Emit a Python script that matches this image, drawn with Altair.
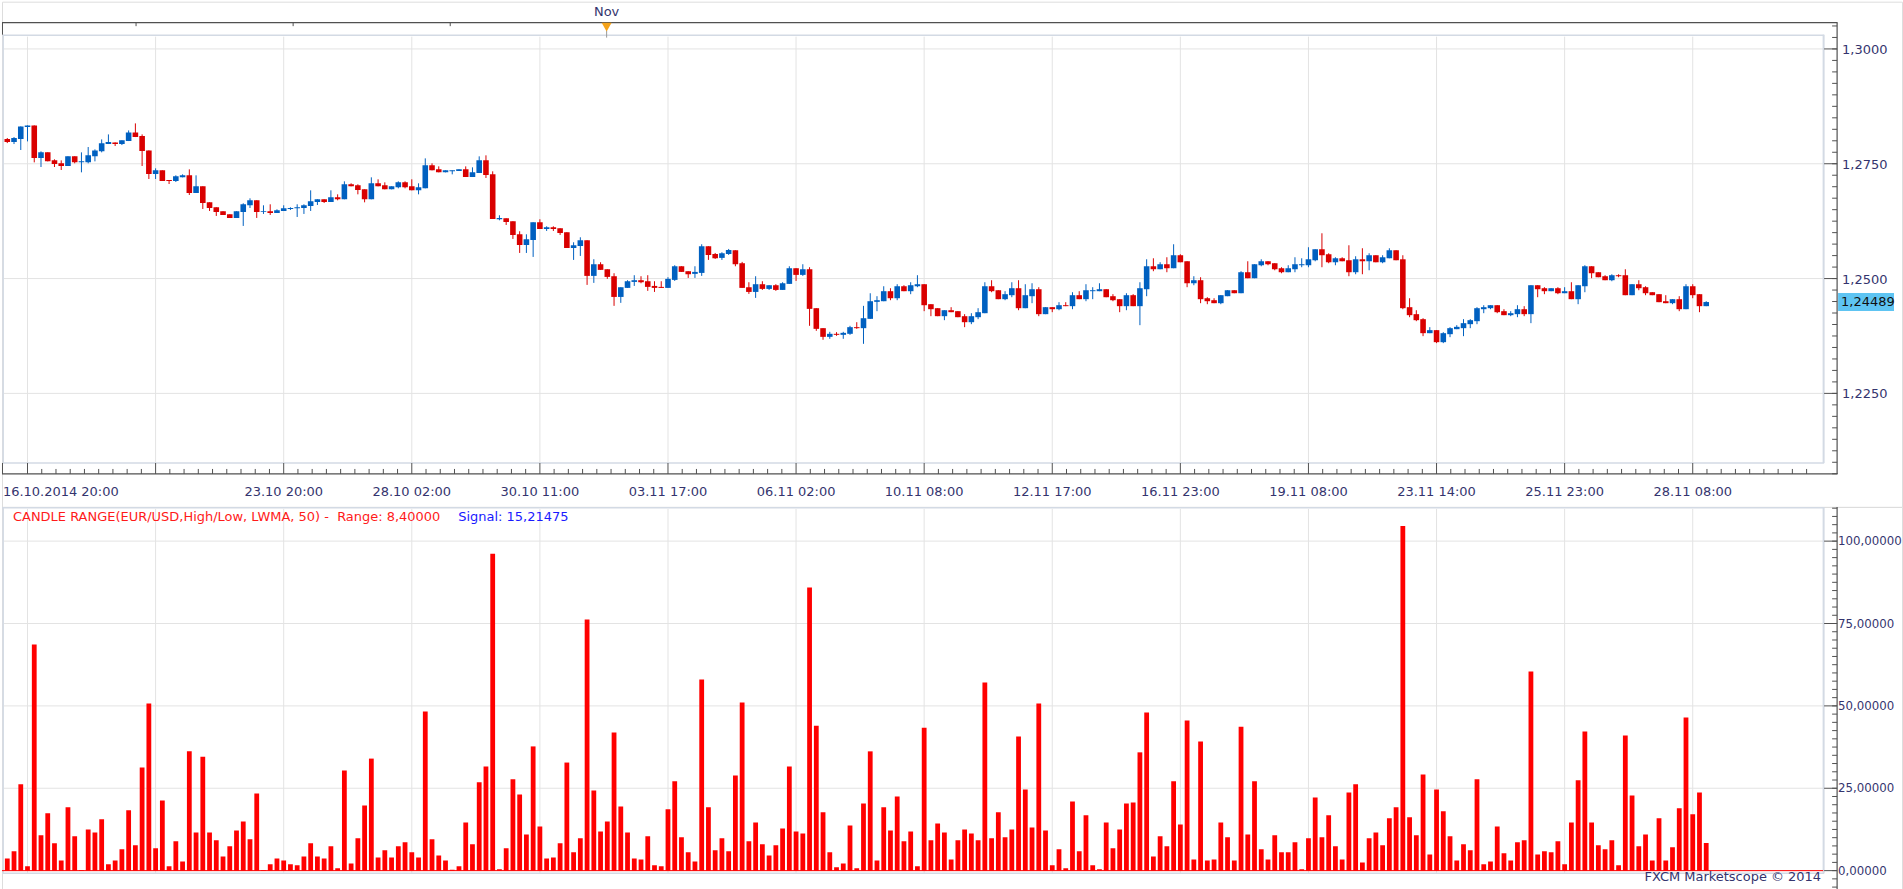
import altair as alt
import pandas as pd
import numpy as np

# ---------------- data ----------------
opens = [1.28038,1.27973,1.28038,1.28299,1.28335,1.27625,1.27748,1.27574,1.27509,1.27451,
1.27661,1.2753,1.2753,1.27661,1.2777,1.27929,1.27965,1.27929,1.27994,1.28183,
1.28103,1.27791,1.27277,1.27356,1.27146,1.27124,1.27204,1.27248,1.26863,1.27008,
1.2666,1.26552,1.26465,1.26399,1.2632,1.2645,1.26595,1.26704,1.2645,1.26465,
1.26428,1.26472,1.26515,1.2653,1.26537,1.26581,1.26668,1.26726,1.26668,1.26769,
1.26726,1.27052,1.2703,1.26943,1.26726,1.27074,1.2703,1.26943,1.26987,1.27095,
1.27008,1.26921,1.26965,1.27465,1.27378,1.27313,1.27335,1.27342,1.27378,1.27211,
1.27298,1.27574,1.27269,1.26291,1.26312,1.26247,1.25964,1.25732,1.25841,1.26225,
1.2608,1.26117,1.26095,1.26008,1.25667,1.25711,1.25834,1.25058,1.25312,1.25203,
1.25051,1.246,1.24797,1.24927,1.24964,1.24942,1.2484,1.24819,1.24797,1.24971,
1.25268,1.2516,1.25102,1.25123,1.25703,1.25537,1.2545,1.25537,1.25616,1.25334,
1.24811,1.24709,1.24877,1.24775,1.24855,1.24753,1.24884,1.25225,1.2508,1.25203,
1.24355,1.2392,1.23731,1.23797,1.23775,1.23797,1.23942,1.2392,1.24123,1.24493,
1.24507,1.24725,1.24572,1.24833,1.24725,1.24833,1.24877,1.24442,1.24355,1.24181,
1.24311,1.2429,1.24181,1.2405,1.24159,1.24246,1.24833,1.24746,1.24551,1.24638,
1.2479,1.24355,1.24616,1.24768,1.24225,1.24377,1.24333,1.2442,1.24399,1.24638,
1.24551,1.24725,1.24725,1.24768,1.24616,1.24551,1.24399,1.24638,1.24399,1.24768,
1.25268,1.25203,1.25312,1.25225,1.25508,1.25377,1.24898,1.24964,1.24572,1.24529,
1.24464,1.24616,1.24746,1.24681,1.25138,1.25007,1.2529,1.25377,1.25334,1.25225,
1.25138,1.25203,1.2529,1.2529,1.25399,1.25638,1.25529,1.25355,1.25442,1.25399,
1.25138,1.2542,1.25377,1.25508,1.25355,1.25442,1.25616,1.2542,1.24377,1.24225,
1.24116,1.23811,1.23877,1.23615,1.23789,1.23898,1.2392,1.24007,1.24072,1.24333,
1.24355,1.2442,1.2429,1.24203,1.24225,1.24333,1.24225,1.24855,1.2479,1.24725,
1.2479,1.24681,1.24725,1.24551,1.24833,1.25268,1.25138,1.25051,1.24964,1.25073,
1.25073,1.24638,1.24877,1.24812,1.24703,1.2466,1.24507,1.24464,1.24551,1.24333,
1.24833,1.2466,1.24399]
highs = [1.2806,1.28081,1.28313,1.28335,1.28335,1.2777,1.27748,1.27596,1.27574,1.27661,
1.27661,1.27748,1.27864,1.27813,1.2803,1.28139,1.27965,1.28009,1.28226,1.28379,
1.28139,1.27791,1.274,1.27356,1.27146,1.27248,1.27269,1.27378,1.27248,1.27008,
1.2666,1.26552,1.26465,1.26399,1.26465,1.26639,1.26747,1.26704,1.26595,1.26617,
1.26508,1.26595,1.26552,1.26617,1.26617,1.26921,1.26726,1.26726,1.26921,1.26834,
1.27117,1.27074,1.27052,1.26943,1.27204,1.27161,1.27095,1.27008,1.27117,1.27117,
1.27161,1.27074,1.27617,1.27509,1.27443,1.27356,1.27356,1.27378,1.27443,1.27422,
1.27661,1.27683,1.27335,1.26378,1.26312,1.26247,1.2603,1.25964,1.26225,1.26291,
1.26138,1.26138,1.26095,1.26008,1.2579,1.25899,1.25834,1.25421,1.25355,1.25203,
1.25116,1.24811,1.24964,1.25073,1.25051,1.25073,1.24942,1.24942,1.25029,1.2529,
1.25268,1.2516,1.25268,1.25747,1.25703,1.25558,1.25573,1.25645,1.25616,1.25363,
1.2492,1.25051,1.24942,1.24855,1.24877,1.2492,1.25268,1.25225,1.25312,1.25247,
1.24355,1.2392,1.2384,1.23833,1.2384,1.23971,1.2405,1.24406,1.2468,1.24616,
1.24833,1.2479,1.24877,1.24855,1.2492,1.25073,1.24877,1.24442,1.24355,1.24311,
1.24377,1.2429,1.24225,1.24246,1.24355,1.2492,1.24964,1.24746,1.24725,1.2492,
1.24964,1.24877,1.24898,1.24812,1.24377,1.24377,1.24486,1.24486,1.24703,1.24725,
1.24877,1.24812,1.24898,1.24768,1.2466,1.24551,1.24681,1.2466,1.2492,1.2542,
1.25442,1.25355,1.25464,1.25747,1.25529,1.25377,1.25051,1.25029,1.24594,1.24572,
1.24638,1.24746,1.24746,1.2516,1.25377,1.25312,1.2542,1.25377,1.25334,1.25247,
1.2529,1.25464,1.25442,1.25682,1.25638,1.25986,1.25551,1.25464,1.25464,1.25725,
1.25486,1.2566,1.25551,1.25508,1.25508,1.2566,1.25616,1.25508,1.24572,1.24311,
1.24137,1.23942,1.23877,1.23833,1.23942,1.23985,1.24116,1.24116,1.24377,1.2442,
1.2442,1.2442,1.24333,1.2429,1.2442,1.24399,1.24855,1.24855,1.24812,1.2479,
1.24812,1.24812,1.2492,1.24855,1.2529,1.25268,1.25138,1.25073,1.25094,1.25094,
1.25203,1.24877,1.24964,1.24833,1.24703,1.2466,1.24638,1.24551,1.24616,1.24877,
1.24877,1.2466,1.24507]
lows = [1.2795,1.27929,1.27799,1.27987,1.2753,1.27429,1.27552,1.27429,1.27364,1.27451,
1.27509,1.27313,1.27509,1.27552,1.27748,1.27929,1.27886,1.27907,1.27994,1.28081,
1.27451,1.27168,1.27168,1.27124,1.27059,1.27103,1.27204,1.2682,1.26863,1.26515,
1.26472,1.26363,1.26385,1.2632,1.2632,1.26146,1.26537,1.2632,1.26407,1.26385,
1.26428,1.26472,1.26494,1.26341,1.26407,1.26472,1.26602,1.26646,1.26668,1.26704,
1.26726,1.27008,1.26834,1.2666,1.26726,1.27008,1.26943,1.26943,1.26965,1.26965,
1.26921,1.26834,1.26965,1.27356,1.27313,1.27313,1.27269,1.27342,1.27211,1.27211,
1.27298,1.2719,1.26298,1.26269,1.26167,1.25863,1.25558,1.25558,1.25471,1.2608,
1.26037,1.26037,1.2595,1.25667,1.25406,1.25493,1.24862,1.24906,1.25189,1.24993,
1.24406,1.24471,1.24797,1.2484,1.24898,1.24732,1.24709,1.24797,1.24797,1.24949,
1.25145,1.25014,1.25014,1.25058,1.25406,1.25428,1.25406,1.25515,1.25268,1.24797,
1.24666,1.24579,1.24753,1.24753,1.24732,1.24753,1.24884,1.24949,1.25058,1.23971,
1.23862,1.23667,1.23688,1.23753,1.23688,1.23775,1.23905,1.23579,1.24123,1.2429,
1.24507,1.24529,1.24529,1.24725,1.2466,1.24812,1.2429,1.24181,1.24181,1.24094,
1.24268,1.24159,1.23942,1.24007,1.24116,1.24246,1.24703,1.24551,1.24529,1.24594,
1.24311,1.24355,1.24464,1.24181,1.24225,1.24268,1.24311,1.24399,1.24333,1.24551,
1.24507,1.24551,1.24725,1.24594,1.24507,1.24268,1.24311,1.24399,1.23985,1.24616,
1.2516,1.25203,1.25138,1.25225,1.25355,1.24812,1.24855,1.24464,1.24442,1.24464,
1.24442,1.24616,1.24681,1.24681,1.25007,1.25007,1.25268,1.2529,1.25181,1.25116,
1.25138,1.25138,1.25247,1.25247,1.25377,1.25247,1.25334,1.2529,1.25377,1.25051,
1.25094,1.25094,1.25181,1.25355,1.25334,1.25442,1.25399,1.24333,1.24159,1.24072,
1.23746,1.23811,1.23594,1.23594,1.23724,1.23898,1.23746,1.2392,1.24007,1.24246,
1.24333,1.24246,1.24203,1.24181,1.24159,1.24181,1.24029,1.24594,1.2466,1.24725,
1.2466,1.24681,1.24551,1.24442,1.24703,1.25007,1.25029,1.24964,1.24942,1.25029,
1.24638,1.24638,1.24746,1.24638,1.24638,1.24486,1.24464,1.24442,1.2429,1.24333,
1.24572,1.24268,1.24399]
closes = [1.27973,1.2806,1.28313,1.28335,1.27625,1.27748,1.27552,1.27494,1.27451,1.27661,
1.2753,1.27552,1.27683,1.27791,1.27944,1.27973,1.27929,1.28009,1.28183,1.28081,
1.27777,1.27277,1.27356,1.27124,1.27124,1.27226,1.27248,1.26863,1.27008,1.26646,
1.26537,1.2645,1.26385,1.2632,1.26465,1.26617,1.26704,1.2645,1.26465,1.26428,
1.26486,1.2653,1.26537,1.26552,1.26595,1.26682,1.26726,1.26668,1.26769,1.26726,
1.27052,1.27008,1.26929,1.26726,1.27074,1.27008,1.26943,1.27008,1.27095,1.26987,
1.26921,1.26987,1.27465,1.27356,1.27313,1.27356,1.27356,1.27378,1.27211,1.27313,
1.27574,1.27255,1.26298,1.2632,1.26233,1.2595,1.25732,1.25856,1.26225,1.2608,
1.26117,1.2608,1.25993,1.25667,1.25725,1.25834,1.25058,1.25312,1.25189,1.25036,
1.246,1.24811,1.24942,1.24964,1.2492,1.24819,1.24797,1.24797,1.24993,1.25268,
1.25145,1.25094,1.25145,1.25703,1.25515,1.25442,1.25551,1.25624,1.25312,1.24797,
1.24709,1.24877,1.24775,1.24855,1.24753,1.24898,1.25225,1.2508,1.25203,1.2434,
1.23905,1.23731,1.23797,1.23775,1.23818,1.23942,1.2392,1.24137,1.24507,1.24529,
1.24725,1.24572,1.24833,1.24725,1.24855,1.24877,1.2442,1.24333,1.24181,1.24311,
1.24268,1.24159,1.2405,1.24181,1.24268,1.24833,1.24725,1.24551,1.2466,1.2479,
1.24355,1.24638,1.24768,1.24225,1.24377,1.24333,1.2442,1.24399,1.24638,1.24551,
1.24746,1.24746,1.24768,1.24594,1.24529,1.24399,1.24638,1.24399,1.2479,1.25268,
1.25203,1.25312,1.25225,1.25508,1.25355,1.24898,1.24964,1.24551,1.24507,1.24464,
1.24638,1.24746,1.24681,1.25138,1.25007,1.25312,1.25377,1.25312,1.25203,1.25138,
1.25225,1.25312,1.25312,1.2542,1.25638,1.25508,1.25355,1.25442,1.25377,1.25138,
1.2542,1.25377,1.25508,1.25355,1.25464,1.25616,1.25399,1.24355,1.24203,1.24094,
1.23811,1.23877,1.23615,1.23811,1.2392,1.23949,1.24029,1.24094,1.24355,1.24377,
1.2442,1.24268,1.24203,1.24246,1.24333,1.24225,1.24855,1.24768,1.24725,1.2479,
1.24681,1.24725,1.24551,1.24855,1.25268,1.25116,1.25029,1.24964,1.25073,1.25051,
1.24638,1.24877,1.2479,1.24681,1.24638,1.24486,1.24464,1.24551,1.24333,1.24833,
1.24638,1.24399,1.24489]
candle_range = [3.7,5.9,26.2,1.3,68.6,10.7,17.4,8.3,3.1,19.2,
10.4,0.2,12.5,11.6,15.6,1.9,3.1,6.5,18.3,7.7,
31.3,50.7,6.8,21.3,1.3,8.9,2.8,36.2,11.6,34.6,
11.6,9.2,4.3,7.4,12.2,14.9,9.5,23.4,0.2,1.9,
3.7,3.1,1.9,1.6,4.3,8.3,4.3,3.7,7.4,0.7,
30.4,2.2,9.8,19.8,34.0,4.0,6.2,4.0,7.4,8.6,
5.6,4.0,48.3,9.5,4.6,3.1,0.3,1.3,14.6,8.0,
26.8,31.6,96.2,0.4,6.8,27.7,23.1,11.0,37.7,13.4,
3.7,4.0,8.3,32.8,5.6,9.8,76.2,24.3,11.9,14.9,
41.9,19.5,11.6,3.7,3.4,10.4,1.6,1.3,18.6,27.1,
10.1,5.6,2.8,58.0,19.2,6.2,9.8,5.9,28.9,51.0,
8.9,14.6,8.0,4.6,7.7,12.8,31.6,11.9,11.3,85.9,
44.0,17.7,5.6,1.0,2.2,13.7,0.7,20.4,36.2,3.1,
19.2,12.2,22.5,8.9,11.9,1.3,43.4,9.2,14.3,11.6,
3.4,9.2,12.5,11.3,9.2,57.1,9.8,17.7,10.1,12.5,
40.7,24.6,13.1,50.7,12.2,1.6,6.5,0.7,21.0,5.9,
16.8,1.6,0.4,14.6,6.8,12.5,20.4,20.7,35.9,48.0,
4.3,10.4,7.4,27.1,14.0,45.6,3.4,39.2,3.1,3.4,
14.6,10.1,3.1,43.7,11.0,27.1,6.5,3.4,10.7,5.6,
5.6,8.6,0.4,9.8,22.2,10.1,16.8,7.4,3.4,23.7,
26.2,2.5,9.8,11.6,7.7,15.9,19.2,104.6,16.2,10.7,
29.2,4.9,24.6,18.0,10.4,3.1,8.0,6.2,27.7,1.9,
2.8,13.4,5.3,3.1,8.6,9.2,60.4,4.9,5.9,5.6,
8.9,1.9,14.6,27.4,42.2,14.6,7.7,6.5,9.2,1.6,
41.0,22.8,7.4,11.0,3.1,15.9,3.1,7.1,18.9,46.5,
17.1,23.7,8.4]

grid_index = [3, 22, 41, 60, 79, 98, 117, 136, 155, 174, 193, 212, 231, 250]
first_label = "16.10.2014 20:00"
label_index = [41, 60, 79, 98, 117, 136, 155, 174, 193, 212, 231, 250]
label_text = ["23.10 20:00", "28.10 02:00", "30.10 11:00", "03.11 17:00", "06.11 02:00",
              "10.11 08:00", "12.11 17:00", "16.11 23:00", "19.11 08:00", "23.11 14:00",
              "25.11 23:00", "28.11 08:00"]
price_ticks = [1.225, 1.25, 1.275, 1.3]
price_minor = [round(1.2075 + 0.0025 * i, 4) for i in range(40)]
range_ticks = [0, 25, 50, 75, 100]
range_minor = [-5 + 2.5 * i for i in range(47)]
axis_minor_index = [3 + 19 * j + 19 * i / 9 for j in range(14) for i in range(1, 9)]
top_tick_index = [19.1, 42.4, 65.7]
month_index = [88.9]
month_text = ["Nov"]
range_value = 8.40000
signal_value = 15.21475
header_main = ("CANDLE RANGE(EUR/USD,High/Low, LWMA, 50) -\u00a0\u00a0Range: "
               + f"{range_value:.5f}".replace(".", ","))
header_signal = "Signal: " + f"{signal_value:.5f}".replace(".", ",")
credit = "FXCM Marketscope \u00a9 2014"

# ---------------- styles ----------------
FONT = "DejaVu Sans"
UP = "#0060C0"
DOWN = "#D90000"
BAR = "#FF0000"
GRID = "#E3E3E3"
FRAME = "#D3DAE4"
DARK = "#505050"
LABEL = "#34346E"
W = 1903
H_TOP = 506
H_BOT = 383

xs = alt.Scale(domain=[-0.0442, 280.30], nice=False, zero=False)
ys_top = alt.Scale(domain=[1.200283, 1.310283], nice=False, zero=False)
ys_bot = alt.Scale(domain=[-5.667, 110.39], nice=False, zero=False)

idx = list(range(len(closes)))
candles = pd.DataFrame({"k": idx, "open": opens, "high": highs, "low": lows, "close": closes})
candles["dir"] = np.where(candles["close"] >= candles["open"], "up", "down")
bars = pd.DataFrame({"k": idx, "r": candle_range})
grid_df = pd.DataFrame({"k": grid_index})
lab_df = pd.DataFrame({"k": label_index, "t": label_text})
pt_df = pd.DataFrame({"p": price_ticks})
pm_df = pd.DataFrame({"p": price_minor})
rt_df = pd.DataFrame({"v": range_ticks})
rm_df = pd.DataFrame({"v": range_minor})
am_df = pd.DataFrame({"k": axis_minor_index})
tt_df = pd.DataFrame({"k": top_tick_index})
mon_df = pd.DataFrame({"k": month_index, "t": month_text})
last_df = candles.tail(1)
zero_df = pd.DataFrame({"v": [0]})
dummy = pd.DataFrame({"d": [0]})

X = alt.X("k:Q", scale=xs, axis=None)


def hline(y, x1, x2, color, w=1.0):
    return alt.Chart(dummy).mark_rule(color=color, strokeWidth=w).encode(
        x=alt.value(x1), x2=alt.value(x2), y=alt.value(y))


def vline(x, y1, y2, color, w=1.0):
    return alt.Chart(dummy).mark_rule(color=color, strokeWidth=w).encode(
        x=alt.value(x), y=alt.value(y1), y2=alt.value(y2))


def txt(s, x, y, color, align="left", size=13):
    return alt.Chart(pd.DataFrame({"t": [s]})).mark_text(
        font=FONT, fontSize=size, color=color, align=align, baseline="middle", clip=True
    ).encode(x=alt.value(x), y=alt.value(y), text="t:N")


color_enc = alt.Color("dir:N", scale=alt.Scale(domain=["up", "down"], range=[UP, DOWN]), legend=None)

# ---------------- top panel ----------------
top_layers = [
    alt.Chart(grid_df).mark_rule(color=GRID, strokeWidth=1).encode(x=X, y=alt.value(35), y2=alt.value(461)),
    alt.Chart(pt_df).mark_rule(color=GRID, strokeWidth=1).encode(
        y=alt.Y("p:Q", scale=ys_top, axis=None), x=alt.value(2), x2=alt.value(1824)),
    hline(33.5, 1, 1825, FRAME, 1.5),
    hline(462, 1, 1825, FRAME, 1.5),
    vline(1.2, 33, 462, FRAME, 1.5),
    vline(1824.5, 33, 462, FRAME, 2),
    hline(21, 0, 1838.5, DARK, 1.2),
    hline(473, 0, 1838.5, DARK, 1.2),
    vline(1838, 21, 473, DARK, 1.2),
    vline(0.5, 21, 33, DARK, 1),
    vline(0.5, 462, 473, DARK, 1),
    alt.Chart(tt_df).mark_rule(color=DARK, strokeWidth=1).encode(x=X, y=alt.value(21), y2=alt.value(24.5)),
    alt.Chart(candles).mark_rule(strokeWidth=1, clip=True).encode(
        x=X, y=alt.Y("low:Q", scale=ys_top, axis=None), y2="high:Q", color=color_enc),
    alt.Chart(candles).mark_bar(size=5.6, clip=True).encode(
        x=X, y=alt.Y("open:Q", scale=ys_top, axis=None), y2="close:Q", color=color_enc),
    alt.Chart(pm_df).mark_rule(color=DARK, strokeWidth=1).encode(
        y=alt.Y("p:Q", scale=ys_top, axis=None), x=alt.value(1833), x2=alt.value(1838)),
    alt.Chart(pt_df).mark_rule(color=DARK, strokeWidth=1).encode(
        y=alt.Y("p:Q", scale=ys_top, axis=None), x=alt.value(1825), x2=alt.value(1838)),
    alt.Chart(pt_df).transform_calculate(lbl="replace(format(datum.p, '.4f'), '.', ',')").mark_text(
        font=FONT, fontSize=13, color=LABEL, align="left", baseline="middle", clip=True, dy=1
    ).encode(y=alt.Y("p:Q", scale=ys_top, axis=None), x=alt.value(1843), text="lbl:N"),
    alt.Chart(last_df).mark_tick(orient="horizontal", size=56, thickness=18, color="#5EC4F2", opacity=1).encode(
        y=alt.Y("close:Q", scale=ys_top, axis=None), x=alt.value(1867)),
    alt.Chart(last_df).transform_calculate(lbl="replace(format(datum.close, '.5f'), '.', ',')").mark_text(
        font=FONT, fontSize=13, color="#101010", align="left", baseline="middle", clip=True
    ).encode(y=alt.Y("close:Q", scale=ys_top, axis=None), x=alt.value(1842), text="lbl:N"),
    alt.Chart(grid_df).mark_rule(color=DARK, strokeWidth=1).encode(x=X, y=alt.value(462), y2=alt.value(473)),
    alt.Chart(am_df).mark_rule(color=DARK, strokeWidth=1).encode(x=X, y=alt.value(468), y2=alt.value(473)),
    alt.Chart(lab_df).mark_text(font=FONT, fontSize=13, color=LABEL, align="center", baseline="middle").encode(
        x=X, y=alt.value(491), text="t:N"),
    txt(first_label, 1, 491, LABEL),
    alt.Chart(mon_df).mark_text(font=FONT, fontSize=13, color=LABEL, align="center", baseline="middle").encode(
        x=X, y=alt.value(10), text="t:N"),
    alt.Chart(mon_df).mark_rule(color="#9A9A9A", strokeWidth=1).encode(x=X, y=alt.value(29), y2=alt.value(36)),
    alt.Chart(mon_df).mark_point(shape="triangle-down", filled=True, size=100, color="#F5A31A", opacity=1).encode(
        x=X, y=alt.value(25.5)),
]
top = alt.layer(*top_layers).properties(width=W, height=H_TOP)

# ---------------- bottom panel ----------------
bot_layers = [
    alt.Chart(grid_df).mark_rule(color=GRID, strokeWidth=1).encode(x=X, y=alt.value(2), y2=alt.value(367)),
    alt.Chart(rt_df).mark_rule(color=GRID, strokeWidth=1).encode(
        y=alt.Y("v:Q", scale=ys_bot, axis=None), x=alt.value(2), x2=alt.value(1824)),
    hline(0.8, 0, 1825, FRAME, 1.5),
    vline(1.2, 0, 367, FRAME, 1.5),
    vline(1824.5, 0, 367, FRAME, 2),
    hline(367, 1, 1825, FRAME, 1.5),
    vline(1838, 0, 383, DARK, 1.2),
    alt.Chart(bars).mark_bar(size=4.8, color=BAR, clip=True).encode(
        x=X, y=alt.Y("r:Q", scale=ys_bot, axis=None), y2=alt.datum(0)),
    alt.Chart(zero_df).mark_rule(color=BAR, strokeWidth=1).encode(
        y=alt.Y("v:Q", scale=ys_bot, axis=None), x=alt.value(0), x2=alt.value(1824)),
    alt.Chart(rm_df).mark_rule(color=DARK, strokeWidth=1).encode(
        y=alt.Y("v:Q", scale=ys_bot, axis=None), x=alt.value(1833), x2=alt.value(1838)),
    alt.Chart(rt_df).mark_rule(color=DARK, strokeWidth=1).encode(
        y=alt.Y("v:Q", scale=ys_bot, axis=None), x=alt.value(1825), x2=alt.value(1838)),
    alt.Chart(rt_df).transform_calculate(lbl="replace(format(datum.v, '.5f'), '.', ',')").mark_text(
        font=FONT, fontSize=11.8, color=LABEL, align="left", baseline="middle", clip=True
    ).encode(y=alt.Y("v:Q", scale=ys_bot, axis=None), x=alt.value(1839), text="lbl:N"),
    txt(header_main, 11, 10, "#FF1A1A"),
    txt(header_signal, 457, 10, "#1A1AFF"),
    txt(credit, 1822, 371, LABEL, align="right"),
]
bottom = alt.layer(*bot_layers).properties(width=W, height=H_BOT)

chart = alt.vconcat(top, bottom, spacing=0, bounds="flush", padding=0).configure_view(
    strokeWidth=0).configure(background="white")

chart.save("out.html", embed_options={"renderer": "svg", "actions": False})
